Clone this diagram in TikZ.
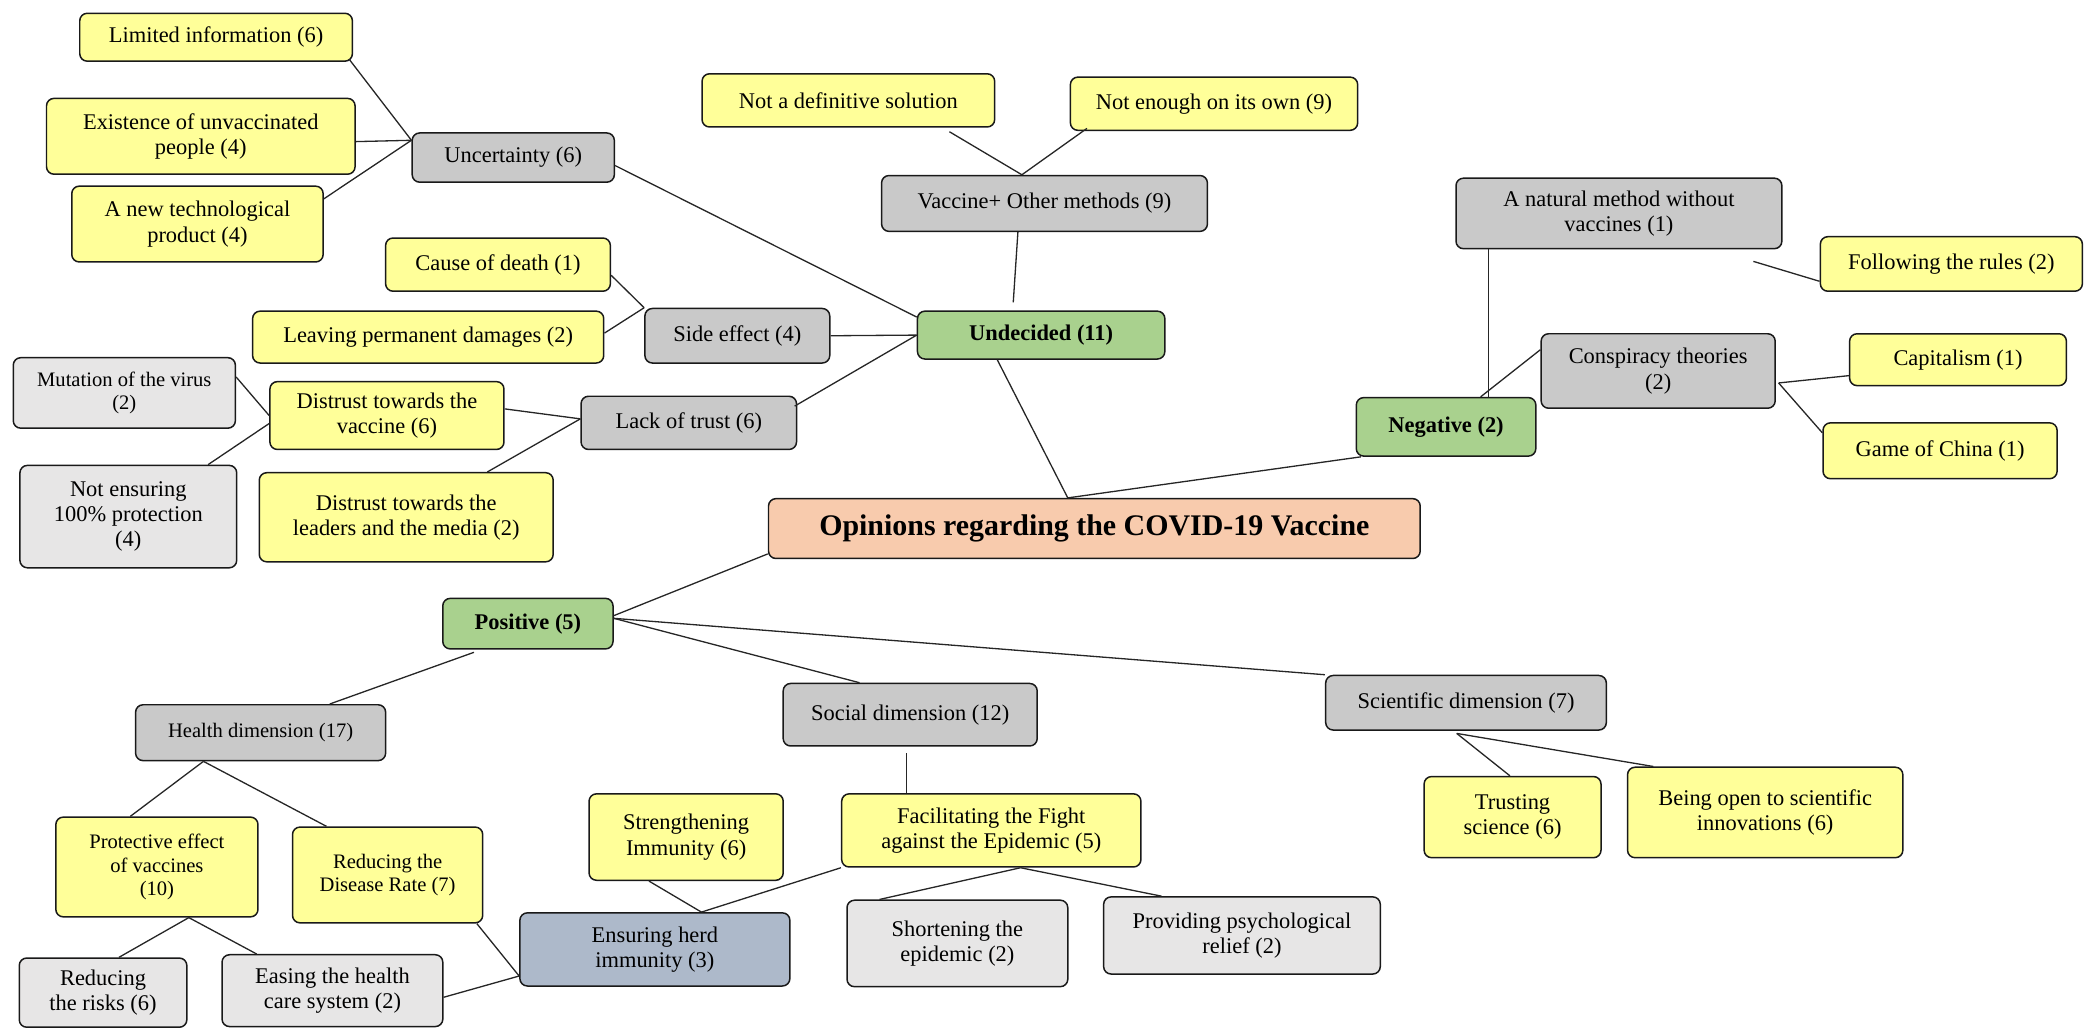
\documentclass[tikz,border=0pt]{standalone}
\usepackage{fontspec}
\setmainfont{Liberation Serif}
\usetikzlibrary{calc}
\definecolor{ideayellow}{HTML}{FFFF99}
\definecolor{themegray}{HTML}{C9C9C9}
\definecolor{detailgray}{HTML}{E7E6E6}
\definecolor{stancegreen}{HTML}{A9D18E}
\definecolor{topicpeach}{HTML}{F8CBAD}
\definecolor{coreblue}{HTML}{ADB9CA}

\begin{document}
\begin{tikzpicture}[x=0.025cm, y=-0.025cm,
  font=\fontsize{12}{13.5}\selectfont,
  box/.style={draw=black!90, line width=0.8pt, rounded corners=4pt,
    align=center, inner sep=2pt},
  idea/.style={box, fill=ideayellow},
  theme/.style={box, fill=themegray},
  detail/.style={box, fill=detailgray},
  core/.style={box, fill=coreblue},
  stance/.style={box, fill=stancegreen, font=\fontsize{12}{13.5}\selectfont\bfseries},
  topic/.style={box, fill=topicpeach, font=\fontsize{16}{18}\selectfont\bfseries},
  small/.style={font=\fontsize{11}{12.5}\selectfont},
  link/.style={draw=black!85, line width=0.7pt}]
\useasboundingbox (0,0) rectangle (1568,775);

% centre
\node[topic, minimum width=12.25cm, minimum height=1.125cm] (root) at (823,397.5)
  {Opinions regarding the COVID-19 Vaccine};

% undecided side
\node[stance, minimum width=4.65cm, minimum height=0.9cm] (undecided) at (783,252) {Undecided (11)};
\node[theme, minimum width=3.8cm, minimum height=0.925cm] (uncert) at (386,118.5) {Uncertainty (6)};
\node[idea, minimum width=5.125cm, minimum height=0.9cm] (limited) at (162.5,28) {Limited information (6)};
\node[idea, minimum width=5.8cm, minimum height=1.425cm] (unvacc) at (151,102.5)
  {Existence of unvaccinated\\people (4)};
\node[idea, minimum width=4.725cm, minimum height=1.425cm] (newtech) at (148.5,168.5)
  {A new technological\\product (4)};
\node[theme, minimum width=3.475cm, minimum height=1.025cm] (side) at (554.5,252.5) {Side effect (4)};
\node[idea, minimum width=4.225cm, minimum height=1cm] (death) at (374.5,199) {Cause of death (1)};
\node[idea, minimum width=6.6cm, minimum height=0.975cm] (damage) at (322,253.5)
  {Leaving permanent damages (2)};
\node[theme, minimum width=4.05cm, minimum height=1cm] (lack) at (518,318) {Lack of trust (6)};
\node[idea, minimum width=4.4cm, minimum height=1.275cm] (distvac) at (291,312.5)
  {Distrust towards the\\vaccine (6)};
\node[idea, minimum width=5.525cm, minimum height=1.675cm] (distlead) at (305.5,389)
  {Distrust towards the\\leaders and the media (2)};
\node[detail, small, minimum width=4.175cm, minimum height=1.325cm] (mutation) at (93.5,295.5)
  {Mutation of the virus\\(2)};
\node[detail, minimum width=4.075cm, minimum height=1.925cm] (notsafe) at (96.5,388.5)
  {Not ensuring\\100\% protection\\(4)};
\node[theme, minimum width=6.125cm, minimum height=1.05cm] (vacplus) at (785.5,153)
  {Vaccine+ Other methods (9)};
\node[idea, minimum width=5.5cm, minimum height=1cm] (notdef) at (638,75.5) {Not a definitive solution};
\node[idea, minimum width=5.4cm, minimum height=1cm] (notenough) at (913,78) {Not enough on its own (9)};

% negative side
\node[stance, minimum width=3.375cm, minimum height=1.1cm] (negative) at (1087.5,321) {Negative (2)};
\node[theme, minimum width=6.125cm, minimum height=1.325cm] (natural) at (1217.5,160.5)
  {A natural method without\\vaccines (1)};
\node[idea, minimum width=4.925cm, minimum height=1.025cm] (rules) at (1467.5,198.5) {Following the rules (2)};
\node[theme, minimum width=4.4cm, minimum height=1.4cm] (conspiracy) at (1247,279)
  {Conspiracy theories\\(2)};
\node[idea, minimum width=4.075cm, minimum height=0.975cm] (capital) at (1472.5,270.5) {Capitalism (1)};
\node[idea, minimum width=4.4cm, minimum height=1.05cm] (china) at (1459,339) {Game of China (1)};

% positive side
\node[stance, minimum width=3.2cm, minimum height=0.95cm] (positive) at (397,469) {Positive (5)};
\node[theme, small, minimum width=4.7cm, minimum height=1.05cm] (health) at (196,551) {Health dimension (17)};
\node[theme, minimum width=4.775cm, minimum height=1.175cm] (social) at (684.5,537.5) {Social dimension (12)};
\node[theme, minimum width=5.275cm, minimum height=1.025cm] (science) at (1102.5,528.5)
  {Scientific dimension (7)};
\node[idea, small, minimum width=3.8cm, minimum height=1.875cm] (protect) at (118,652)
  {Protective effect\\of vaccines\\(10)};
\node[idea, small, minimum width=3.575cm, minimum height=1.8cm] (disease) at (291.5,658)
  {Reducing the\\Disease Rate (7)};
\node[idea, minimum width=3.65cm, minimum height=1.625cm] (immunity) at (516,629.5)
  {Strengthening\\Immunity (6)};
\node[idea, minimum width=5.625cm, minimum height=1.375cm] (fight) at (745.5,624.5)
  {Facilitating the Fight\\against the Epidemic (5)};
\node[core, minimum width=5.075cm, minimum height=1.375cm] (herd) at (492.5,714)
  {Ensuring herd\\immunity (3)};
\node[detail, minimum width=4.15cm, minimum height=1.625cm] (shorten) at (720,709.5)
  {Shortening the\\epidemic (2)};
\node[detail, minimum width=5.2cm, minimum height=1.45cm] (relief) at (934,703.5)
  {Providing psychological\\relief (2)};
\node[detail, minimum width=3.15cm, minimum height=1.3cm] (risks) at (77.5,746.5)
  {Reducing\\the risks (6)};
\node[detail, minimum width=4.15cm, minimum height=1.35cm] (easing) at (250,745)
  {Easing the health\\care system (2)};
\node[idea, minimum width=3.325cm, minimum height=1.525cm] (trusting) at (1137.5,614.5)
  {Trusting\\science (6)};
\node[idea, minimum width=5.175cm, minimum height=1.7cm] (openness) at (1327.5,611)
  {Being open to scientific\\innovations (6)};

% connectors: undecided
\coordinate (uncin) at ($(uncert.west)+(0,-13)$);
\draw[link] ($(limited.south east)+(-3,-2)$) -- (uncin);
\draw[link] ($(unvacc.east)+(0,4)$) -- (uncin);
\draw[link] ($(newtech.east)+(0,-19)$) -- (uncin);
\draw[link] ($(uncert.east)+(0,6)$) -- ($(undecided.north west)+(0,5)$);
\draw[link] ($(death.east)+(0,8)$) -- (side.north west);
\draw[link] ($(damage.east)+(0,-3)$) -- (side.north west);
\draw[link] (side.east) -- (undecided.west);
\draw[link] ($(lack.north east)+(-2,8)$) -- (undecided.west);
\coordinate (lackin) at ($(lack.west)+(0,-3)$);
\draw[link] ($(distvac.east)+(0,-5)$) -- (lackin);
\draw[link] ($(distlead.north)+(61,0)$) -- (lackin);
\draw[link] ($(mutation.east)+(0,-12)$) -- (distvac.west);
\draw[link] ($(notsafe.north)+(60,0)$) -- ($(distvac.west)+(0,6)$);
\coordinate (vtop) at ($(vacplus.north)+(-17,0)$);
\draw[link] ($(notdef.south)+(76,3)$) -- (vtop);
\draw[link] ($(notenough.south west)+(13,-2)$) -- (vtop);
\draw[link] ($(vacplus.south)+(-20,0)$) -- ($(undecided.north)+(-21,-6)$);

% connectors: root
\coordinate (rtop) at ($(root.north)+(-20,0)$);
\draw[link] ($(undecided.south)+(-33,0)$) -- (rtop);
\draw[link] ($(negative.south west)+(4,0)$) -- (rtop);

% connectors: negative
\coordinate (nb) at ($(natural.south west)+(25,0)$);
\draw[link] (nb) -- (nb |- negative.north);
\draw[link] ($(conspiracy.west)+(0,-16)$) -- ($(negative.north)+(26,0)$);
\coordinate (natend) at ($(natural.south east)+(-22,9)$);
\draw[link] (natend) -- ($(rules.south west)+(0,-8)$);
\coordinate (consout) at ($(conspiracy.east)+(2,9)$);
\draw[link] (consout) -- ($(capital.west)+(0,12)$);
\draw[link] (consout) -- ($(china.north west)+(0,8)$);

% connectors: positive
\draw[link] ($(root.south west)+(0,-4)$) -- ($(positive.east)+(0,-6)$);
\coordinate (posout) at ($(positive.east)+(0,-4)$);
\draw[link] (posout) -- ($(social.north west)+(58,0)$);
\draw[link] (posout) -- (science.north west);
\draw[link] ($(positive.south west)+(24,2)$) -- ($(health.north)+(52,0)$);
\coordinate (hb) at ($(health.south)+(-43,0)$);
\draw[link] (hb) -- ($(protect.north)+(-20,0)$);
\draw[link] (hb) -- ($(disease.north)+(-46,0)$);
\coordinate (pb) at ($(protect.south)+(24,0)$);
\draw[link] (pb) -- ($(risks.north)+(12,0)$);
\draw[link] (pb) -- ($(easing.north)+(-57,0)$);
\coordinate (herdin) at ($(herd.west)+(0,20)$);
\draw[link] ($(disease.south east)+(-5,0)$) -- (herdin);
\draw[link] ($(easing.east)+(0,5)$) -- (herdin);
\coordinate (herdtop) at ($(herd.north)+(35,0)$);
\draw[link] ($(immunity.south)+(-28,0)$) -- (herdtop);
\draw[link] (fight.south west) -- (herdtop);
\coordinate (sb) at ($(social.south)+(-3,5)$);
\draw[link] (sb) -- (sb |- fight.north);
\coordinate (fb) at ($(fight.south)+(22,0)$);
\draw[link] (fb) -- ($(shorten.north west)+(25,0)$);
\draw[link] (fb) -- ($(relief.north west)+(44,0)$);
\coordinate (sciout) at ($(science.south)+(-7,2)$);
\draw[link] (sciout) -- ($(trusting.north)+(-2,0)$);
\draw[link] (sciout) -- ($(openness.north west)+(20,0)$);
\end{tikzpicture}
\end{document}
